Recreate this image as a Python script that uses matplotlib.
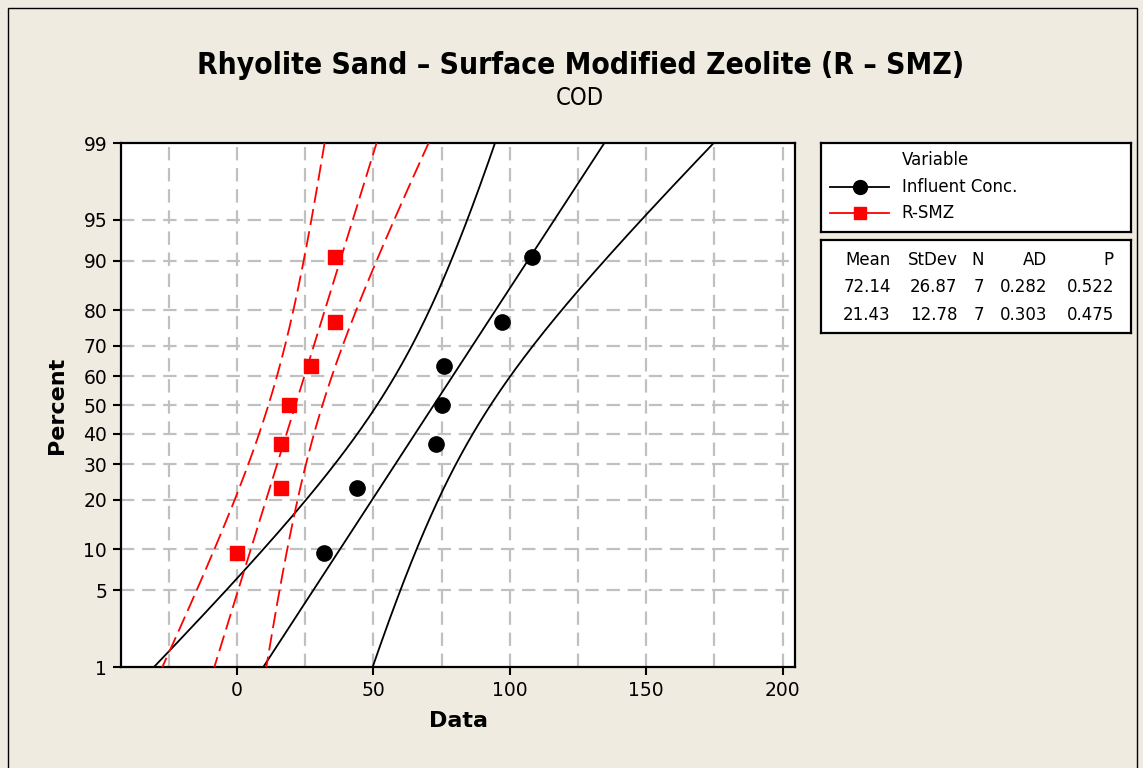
import numpy as np
import matplotlib

matplotlib.use("Agg")
import matplotlib.pyplot as plt
from matplotlib.patches import Rectangle
from statistics import NormalDist

# data
influent = [32, 44, 73, 75, 76, 97, 108]
rsmz = [0, 16, 16, 19, 27, 36, 36]
series_names = ["Influent Conc.", "R-SMZ"]
series_colors = ["black", "#FF0000"]
series_markers = ["o", "s"]
ad_values = ["0.282", "0.303"]
p_values = ["0.522", "0.475"]

pct_ticks = [1, 5, 10, 20, 30, 40, 50, 60, 70, 80, 90, 95, 99]
x_ticks = [0, 50, 100, 150, 200]
x_grid = [-25, 0, 25, 50, 75, 100, 125, 150, 175, 200]

BG = "#EFEBE0"
GRID = "#C0C0C0"
ND = NormalDist()

plt.rcParams["font.family"] = ["DejaVu Sans"]

fig = plt.figure(figsize=(11.43, 7.68), dpi=100, facecolor=BG)
ax = fig.add_axes([0.1059, 0.1315, 0.5896, 0.6823])

z_lo, z_hi = ND.inv_cdf(0.01), ND.inv_cdf(0.99)
zz = np.linspace(z_lo - 0.05, z_hi + 0.05, 200)
k = 2.05

for data, name, col, mk in zip([influent, rsmz], series_names, series_colors, series_markers):
    x = np.sort(np.array(data, dtype=float))
    n = len(x)
    mu, sd = x.mean(), x.std(ddof=1)
    ranks = (np.arange(1, n + 1) - 0.3) / (n + 0.4)
    zp = np.array([ND.inv_cdf(r) for r in ranks])
    fit = mu + zz * sd
    half = k * sd * np.sqrt(1.0 / n + zz ** 2 / (2 * n))
    ls = "-" if col == "black" else (0, (9, 3.5))
    for line in (fit, fit - half, fit + half):
        ax.plot(line, zz, color=col, lw=1.3, ls=ls, zorder=3)
    ax.plot(x, zp, ls="none", marker=mk, color=col,
            markersize=11 if mk == "o" else 10, zorder=4)

ax.set_xlim(-42.5, 204.5)
ax.set_ylim(z_lo, z_hi)
ax.set_yticks([ND.inv_cdf(p / 100) for p in pct_ticks])
ax.set_yticklabels([str(p) for p in pct_ticks])
ax.set_xticks(x_ticks)

for g in x_grid:
    ax.axvline(g, color=GRID, lw=1.6, ls=(0, (6, 3.5)), zorder=1)
for p in pct_ticks[1:-1]:
    ax.axhline(ND.inv_cdf(p / 100), color=GRID, lw=1.6, ls=(0, (6, 3.5)), zorder=1)

for s in ax.spines.values():
    s.set_linewidth(1.6)
ax.tick_params(axis="both", direction="out", length=6, width=1.5, labelsize=13.5,
               pad=4)

ax.set_xlabel("Data", fontsize=16, fontweight="bold", labelpad=8)
ax.set_ylabel("Percent", fontsize=16, fontweight="bold", labelpad=12)

fig.text(0.5075, 0.915, "Rhyolite Sand \u2013 Surface Modified Zeolite (R \u2013 SMZ)",
         ha="center", va="center", fontsize=21.5, fontweight="bold",
         fontstretch="condensed")
fig.text(0.5075, 0.873, "COD", ha="center", va="center", fontsize=17,
         fontstretch="condensed")

# legend box
lax = fig.add_axes([0.7183, 0.6979, 0.2712, 0.1159])
lax.set_xlim(0, 1)
lax.set_ylim(0, 1)
lax.set_xticks([])
lax.set_yticks([])
for s in lax.spines.values():
    s.set_linewidth(1.6)
lax.text(0.26, 0.81, "Variable", fontsize=12, va="center", ha="left")
for i, (name, col, mk) in enumerate(zip(series_names, series_colors, series_markers)):
    yy = 0.51 - i * 0.30
    lax.plot([0.03, 0.22], [yy, yy], color=col, lw=1.3)
    lax.plot([0.125], [yy], marker=mk, color=col, markersize=10 if mk == "o" else 9)
    lax.text(0.26, yy, name, fontsize=12, va="center", ha="left")

# stats box
sax = fig.add_axes([0.7183, 0.5664, 0.2712, 0.1211])
sax.set_xlim(0, 1)
sax.set_ylim(0, 1)
sax.set_xticks([])
sax.set_yticks([])
for s in sax.spines.values():
    s.set_linewidth(1.6)
col_x = [0.225, 0.44, 0.525, 0.73, 0.945]
header = ["Mean", "StDev", "N", "AD", "P"]
for cx, h in zip(col_x, header):
    sax.text(cx, 0.79, h, fontsize=12, ha="right", va="center")
for j, data in enumerate([influent, rsmz]):
    arr = np.array(data, dtype=float)
    row = [f"{arr.mean():.2f}", f"{arr.std(ddof=1):.2f}", str(len(arr)),
           ad_values[j], p_values[j]]
    yy = 0.49 - j * 0.30
    for cx, v in zip(col_x, row):
        sax.text(cx, yy, v, fontsize=12, ha="right", va="center")

# outer border
fig.patches.append(Rectangle((8 / 1143, -0.01), 1129 / 1143, 1.0 - 8 / 768 + 0.01,
                             transform=fig.transFigure, fill=False,
                             edgecolor="black", lw=1.0))

fig.savefig("out.png", dpi=100, facecolor=BG)
